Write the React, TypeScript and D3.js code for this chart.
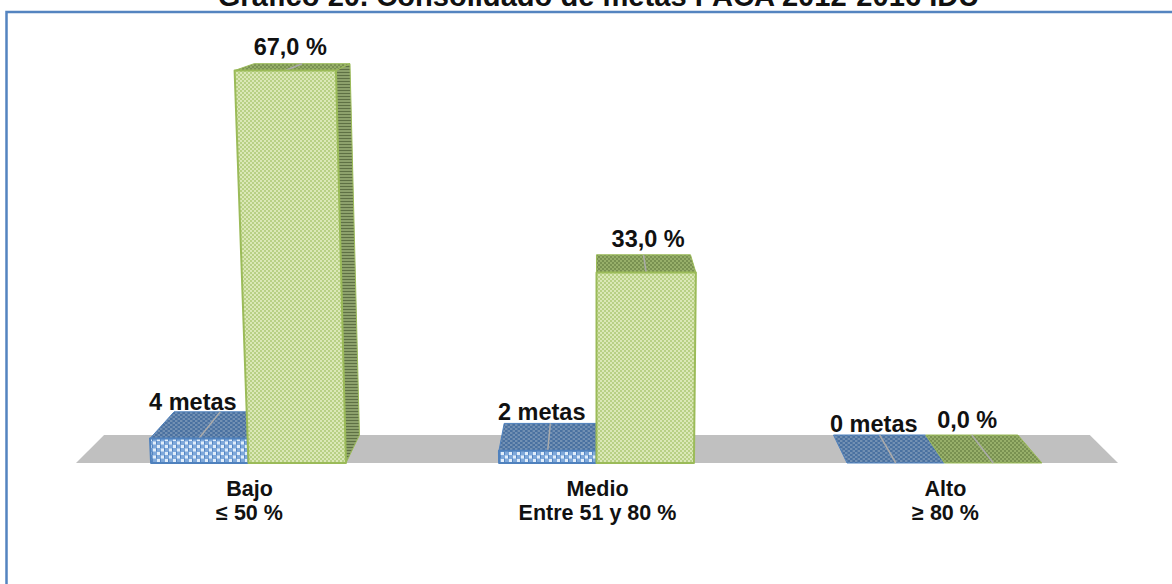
import React from "react";
import * as d3 from "d3";

const WIDTH = 1172;
const HEIGHT = 584;

const titleText = "Gráfico 20. Consolidado de metas PACA 2012-2016 IDU";
const categoryLines = [
  ["Bajo", "≤ 50 %"],
  ["Medio", "Entre 51 y 80 %"],
  ["Alto", "≥ 80 %"],
];
const categories = ["Bajo", "Medio", "Alto"];
const metas = [4, 2, 0];
const porcentaje = [67, 33, 0];
const metasLabels = ["4 metas", "2 metas", "0 metas"];
const porcentajeLabels = ["67,0 %", "33,0 %", "0,0 %"];
const metasNudge = [[-6, -2], [-6, -3], [-22, -3]];
const porcentajeNudge = [[5, -9], [2, -8], [-26, -7]];

// Axis with a slight perspective correction, as the 3D chart renders it
const y = d3.scaleLinear().domain([0, 4, 33, 67]).range([463, 438.5, 272.5, 70.5]);
const x = d3.scaleBand<string>().domain(categories).range([74.5, 1118.5]).paddingInner(0.44).paddingOuter(0.22);

const cx = 596;
const floorDepth = 28;

function project(px: number, v: number, d: number): [number, number] {
  const s = (1 - 0.054 * d) * (1 + (0.04 * v) / 67);
  const base = y(0);
  return [cx + (px - cx) * s, base - floorDepth * d - (base - y(v)) * (1 - 0.054 * d)];
}
const poly = (pts: [number, number][]) => d3.line()(pts)! + "Z";

function Bar({ x0, x1, v, kind, zero }: { x0: number; x1: number; v: number; kind: string; zero: boolean }) {
  const stroke = kind === "blue" ? "#4f81bd" : "#9bbb59";
  const mid = (x0 + x1) / 2;
  const front = poly([project(x0, v, 0), project(x1, v, 0), project(x1, 0, 0), project(x0, 0, 0)]);
  const top = poly([project(x0, v, 0), project(x1, v, 0), project(x1, v, 1), project(x0, v, 1)]);
  const hasRightSide = x1 < cx;
  const side = poly([project(x1, v, 0), project(x1, v, 1), project(x1, 0, 1), project(x1, 0, 0)]);
  const a = project(mid, v, 0);
  const b = project(mid, v, 1);
  return (
    <g>
      {hasRightSide && !zero && kind === "green" && (
        <path d={side} fill={`url(#side-${kind})`} stroke={stroke} strokeWidth={1} strokeLinejoin="round" />
      )}
      <path d={top} fill={`url(#top-${kind})`} stroke={stroke} strokeWidth={1} strokeLinejoin="round" />
      <line x1={a[0]} y1={a[1]} x2={b[0]} y2={b[1]} stroke="#ababab" strokeWidth={1.5} />
      {!zero && <path d={front} fill={`url(#front-${kind})`} stroke={stroke} strokeWidth={2} strokeLinejoin="round" />}
    </g>
  );
}

export default function App() {
  const bw = x.bandwidth();
  const floor = poly([
    project(76, 0, 0),
    project(1118, 0, 0),
    project(1118, 0, 1),
    project(76, 0, 1),
  ]);
  const font = "'Liberation Sans', Arial, sans-serif";
  return (
    <svg
      width={WIDTH}
      height={HEIGHT}
      style={{ position: "absolute", left: 0, top: 0, background: "#fff" }}
      fontFamily={font}
      fontWeight="bold"
    >
      <defs>
        <pattern id="front-green" width="4" height="4" patternUnits="userSpaceOnUse">
          <rect width="4" height="4" fill="#c9dc98" />
          <path d="M0 1H2M2 3H4" stroke="#eef4d6" strokeWidth="1" />
          <path d="M2 1H4M0 3H2" stroke="#a8c472" strokeWidth="1" />
        </pattern>
        <pattern id="top-green" width="4" height="4" patternUnits="userSpaceOnUse">
          <rect width="4" height="4" fill="#859f5a" />
          <path d="M0 1H2M2 3H4" stroke="#a9c07a" strokeWidth="1" />
          <path d="M2 1H4M0 3H2" stroke="#6d8348" strokeWidth="1" />
        </pattern>
        <pattern id="side-green" width="3" height="3" patternUnits="userSpaceOnUse">
          <rect width="3" height="3" fill="#7a8e58" />
          <path d="M0 0.5H3" stroke="#5e7044" strokeWidth="1" />
          <path d="M0 2H3" stroke="#a0b480" strokeWidth="1" />
        </pattern>
        <pattern id="front-blue" width="8" height="7" patternUnits="userSpaceOnUse">
          <rect width="8" height="7" fill="#7ea8da" />
          <rect x="1" y="0.5" width="3" height="3" fill="#e2eefa" />
          <rect x="5" y="4" width="3" height="3" fill="#e2eefa" />
          <rect x="4" y="0" width="1" height="3.5" fill="#5485c2" />
          <rect x="0" y="3.5" width="1" height="3.5" fill="#5485c2" />
        </pattern>
        <pattern id="top-blue" width="5" height="4" patternUnits="userSpaceOnUse">
          <rect width="5" height="4" fill="#55789f" />
          <path d="M0 1H2.5M2.5 3H5" stroke="#8fa8c8" strokeWidth="1" />
          <path d="M2.5 1H5M0 3H2.5" stroke="#3f6aa3" strokeWidth="1" />
        </pattern>
      </defs>

      <text x={598.5} y={6} fontSize={29.1} textAnchor="middle" fill="#111">
        {titleText}
      </text>

      <path d={`M6.5 ${HEIGHT}V12H${WIDTH}`} fill="none" stroke="#5484c0" strokeWidth={2.5} />

      <path d={floor} fill="#c0c0c0" />

      {categories.map((c, i) => {
        const x0 = x(c)!;
        return (
          <g key={c}>
            <Bar x0={x0} x1={x0 + bw / 2} v={metas[i]} kind="blue" zero={metas[i] === 0} />
            <Bar x0={x0 + bw / 2} x1={x0 + bw} v={porcentaje[i]} kind="green" zero={porcentaje[i] === 0} />
          </g>
        );
      })}

      {categories.map((c, i) => {
        const x0 = x(c)!;
        const mBlue = project(x0 + bw / 4, metas[i], 0)[0] + metasNudge[i][0];
        const yBlue = project(x0, metas[i], 1)[1] + metasNudge[i][1];
        const mGreen = project(x0 + (3 * bw) / 4, porcentaje[i], 0)[0] + porcentajeNudge[i][0];
        const yGreen = project(x0, porcentaje[i], 1)[1] + porcentajeNudge[i][1];
        return (
          <g key={c} fill="#111">
            <text x={mBlue} y={yBlue} fontSize={23.5} textAnchor="middle">{metasLabels[i]}</text>
            <text x={mGreen} y={yGreen} fontSize={23.5} textAnchor="middle">{porcentajeLabels[i]}</text>
            <text x={x0 + bw / 2 + 1} y={495.5} fontSize={21.5} textAnchor="middle">{categoryLines[i][0]}</text>
            <text x={x0 + bw / 2 + 1} y={519.5} fontSize={21.5} textAnchor="middle">{categoryLines[i][1]}</text>
          </g>
        );
      })}
    </svg>
  );
}
